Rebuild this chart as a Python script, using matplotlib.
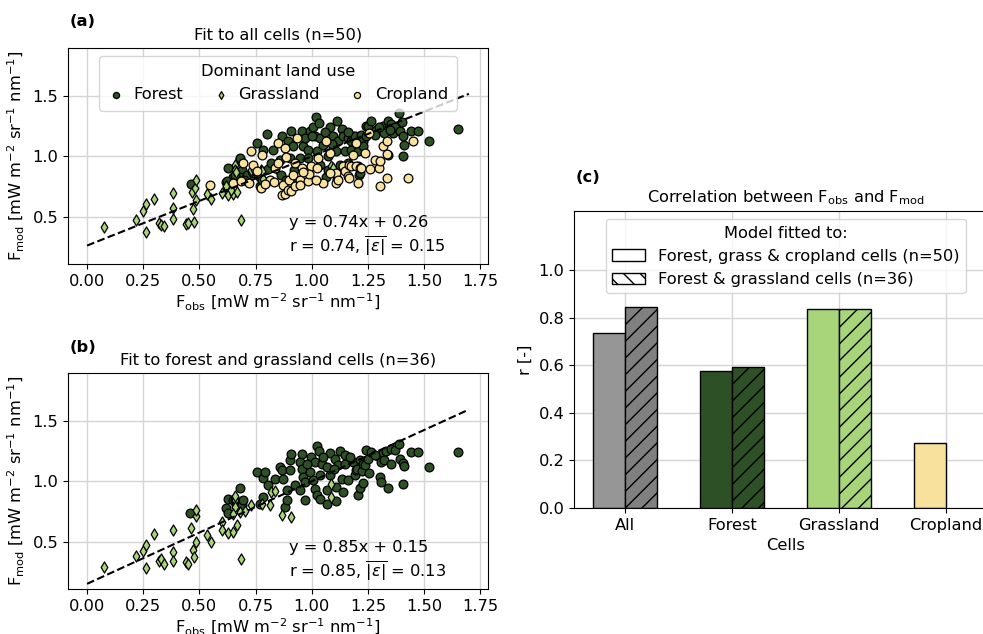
import numpy as np
import matplotlib
matplotlib.use("Agg")
import matplotlib.pyplot as plt
from matplotlib.patches import Patch

plt.rcParams['font.size'] = 11.7

# colours for the land-use classes
c_forest = '#2d5026'
c_grass = '#a8d47a'
c_crop = '#f8e19c'

# ---- panel (a): fit to all cells ----
forest_a = [
    (0.461, 0.768), (0.620, 0.787), (0.628, 0.746), (0.650, 0.829), (0.681, 0.981),
    (0.691, 0.884), (0.680, 0.830), (0.628, 0.903), (0.658, 0.848), (0.621, 0.792),
    (0.710, 0.848), (0.680, 0.990), (0.757, 1.111), (0.769, 0.830), (0.769, 0.751),
    (0.777, 0.806), (0.784, 1.055), (0.799, 1.186), (0.806, 0.898), (0.821, 0.945),
    (0.829, 1.055), (0.858, 0.972), (0.864, 0.848), (0.866, 1.166), (0.887, 0.800),
    (0.895, 1.125), (0.903, 0.986), (0.910, 1.213), (0.917, 0.815), (0.918, 1.083),
    (0.923, 0.889), (0.947, 0.986), (0.955, 1.213), (0.962, 1.083), (0.984, 1.055),
    (0.984, 0.986), (0.992, 1.208), (1.004, 1.241), (1.014, 1.166), (1.020, 1.324),
    (1.022, 1.042), (1.032, 1.277), (1.036, 1.152), (1.036, 0.931), (1.051, 1.097),
    (1.065, 0.829), (1.073, 1.000), (1.073, 0.889), (1.081, 1.241), (1.096, 1.166),
    (1.110, 1.042), (1.113, 1.291), (1.113, 0.810), (1.118, 1.125), (1.125, 0.931),
    (1.133, 1.230), (1.140, 1.166), (1.148, 1.042), (1.162, 1.152), (1.162, 0.945),
    (1.176, 1.055), (1.177, 1.125), (1.183, 1.166), (1.192, 1.166), (1.198, 1.111),
    (1.206, 1.042), (1.207, 0.917), (1.209, 0.843), (1.214, 1.125), (1.214, 0.861),
    (1.221, 1.180), (1.228, 1.125), (1.229, 1.083), (1.243, 1.255), (1.244, 1.166),
    (1.251, 1.249), (1.265, 1.291), (1.287, 1.222), (1.317, 1.255), (1.324, 1.194),
    (1.339, 1.291), (1.339, 1.014), (1.354, 1.271), (1.361, 1.194), (1.369, 1.244),
    (1.388, 1.360), (1.391, 1.208), (1.403, 1.283), (1.406, 1.172), (1.406, 1.000),
    (1.413, 1.097), (1.443, 1.208), (1.473, 1.208), (1.524, 1.125), (1.651, 1.227),
    (0.970, 1.150), (1.060, 1.200), (1.090, 1.100), (1.160, 1.200), (1.280, 1.180),
    (1.300, 1.240), (1.350, 1.220), (0.700, 0.800), (0.740, 0.860), (1.000, 1.170),
]
grass_a = [
    (0.076, 0.414), (0.217, 0.475), (0.249, 0.544), (0.261, 0.602), (0.261, 0.373),
    (0.300, 0.646), (0.318, 0.448), (0.328, 0.434), (0.341, 0.423), (0.384, 0.696),
    (0.384, 0.569), (0.384, 0.483), (0.439, 0.436), (0.451, 0.450), (0.467, 0.707),
    (0.472, 0.566), (0.475, 0.456), (0.482, 0.740), (0.485, 0.807), (0.484, 0.641),
    (0.533, 0.688), (0.553, 0.646), (0.601, 0.696), (0.628, 0.677), (0.648, 0.691),
    (0.658, 0.931), (0.658, 0.889), (0.662, 0.870), (0.668, 0.704), (0.687, 0.475),
    (0.731, 0.870), (0.732, 0.889), (0.742, 0.890), (0.776, 0.890), (0.777, 0.875),
    (0.783, 0.815), (0.843, 0.903), (1.088, 0.917), (1.095, 0.906), (0.620, 0.750),
    (0.640, 0.720),
]
crop_a = [
    (0.549, 0.760), (0.651, 0.778), (0.684, 0.792), (0.695, 0.945), (0.732, 1.047),
    (0.740, 0.931), (0.755, 0.875), (0.776, 0.738), (0.777, 1.014), (0.813, 0.807),
    (0.836, 0.903), (0.850, 0.945), (0.850, 1.113), (0.869, 0.677), (0.871, 0.765),
    (0.879, 0.687), (0.880, 1.069), (0.887, 0.992), (0.895, 0.718), (0.900, 0.806),
    (0.909, 0.715), (0.918, 0.848), (0.925, 0.945), (0.925, 0.751), (0.933, 1.152),
    (0.947, 0.806), (0.947, 0.765), (0.955, 0.903), (0.984, 0.792), (0.999, 0.917),
    (1.022, 0.903), (1.030, 0.986), (1.051, 0.778), (1.062, 1.124), (1.081, 1.028),
    (1.110, 0.861), (1.110, 0.778), (1.118, 0.806), (1.140, 0.917), (1.148, 0.875),
    (1.162, 0.834), (1.168, 0.931), (1.168, 0.820), (1.177, 0.917), (1.184, 1.014),
    (1.199, 1.111), (1.199, 0.917), (1.206, 0.778), (1.214, 0.903), (1.221, 0.903),
    (1.236, 1.028), (1.254, 1.194), (1.258, 0.895), (1.283, 0.972), (1.298, 0.903),
    (1.306, 0.958), (1.306, 0.751), (1.317, 1.083), (1.336, 1.125), (1.336, 1.022),
    (1.336, 0.820), (1.428, 0.820), (1.450, 1.125), (0.720, 0.780), (0.790, 0.770),
    (0.830, 0.790), (0.990, 0.850), (1.020, 0.800), (1.080, 0.860), (0.960, 0.870),
]
fit_a = (0.74, 0.26, 0.74, 0.15)  # slope, intercept, r, mean abs error

# ---- panel (b): fit to forest and grassland cells ----
forest_b = [
    (0.460, 0.738), (0.620, 0.779), (0.628, 0.740), (0.628, 0.856), (0.650, 0.848),
    (0.658, 0.842), (0.665, 0.800), (0.680, 0.945), (0.691, 0.800), (0.695, 0.842),
    (0.757, 1.078), (0.769, 0.814), (0.781, 1.028), (0.784, 0.870), (0.792, 1.078),
    (0.806, 0.972), (0.836, 1.022), (0.858, 1.119), (0.866, 1.091), (0.873, 1.017),
    (0.880, 0.787), (0.888, 0.931), (0.888, 0.842), (0.903, 1.175), (0.903, 1.091),
    (0.910, 1.230), (0.925, 0.967), (0.947, 1.161), (0.947, 0.925), (0.955, 1.230),
    (0.955, 1.105), (0.962, 1.036), (0.969, 0.994), (0.969, 0.842), (0.992, 1.078),
    (0.999, 1.202), (1.007, 1.008), (1.014, 1.161), (1.014, 0.939), (1.022, 1.294),
    (1.022, 0.889), (1.032, 1.249), (1.036, 1.050), (1.036, 0.850), (1.044, 1.147),
    (1.066, 1.119), (1.066, 0.931), (1.066, 0.814), (1.081, 1.238), (1.081, 1.050),
    (1.103, 1.188), (1.110, 0.953), (1.110, 0.834), (1.118, 1.139), (1.125, 1.249),
    (1.133, 1.022), (1.140, 0.911), (1.148, 1.222), (1.148, 1.147), (1.162, 1.008),
    (1.183, 1.158), (1.192, 1.050), (1.198, 1.097), (1.200, 1.105), (1.207, 0.889),
    (1.213, 1.180), (1.216, 0.945), (1.224, 1.083), (1.228, 1.144), (1.228, 0.986),
    (1.239, 1.133), (1.243, 1.263), (1.251, 1.188), (1.257, 1.069), (1.265, 1.241),
    (1.295, 1.208), (1.302, 1.036), (1.309, 1.158), (1.309, 0.992), (1.317, 1.235),
    (1.324, 1.180), (1.332, 1.249), (1.339, 0.945), (1.354, 1.269), (1.354, 1.144),
    (1.369, 1.258), (1.388, 1.313), (1.391, 1.186), (1.406, 1.152), (1.406, 0.981),
    (1.413, 1.125), (1.443, 1.241), (1.473, 1.241), (1.524, 1.119), (1.651, 1.241),
    (1.170, 1.200), (1.280, 1.220), (1.050, 1.200), (0.980, 1.140), (1.100, 1.100),
]
grass_b = [
    (0.076, 0.290), (0.217, 0.378), (0.249, 0.420), (0.261, 0.475), (0.261, 0.282),
    (0.300, 0.566), (0.318, 0.340), (0.328, 0.356), (0.341, 0.318), (0.384, 0.594),
    (0.384, 0.411), (0.384, 0.340), (0.439, 0.331), (0.451, 0.318), (0.464, 0.613),
    (0.472, 0.434), (0.475, 0.370), (0.484, 0.710), (0.484, 0.765), (0.484, 0.494),
    (0.533, 0.558), (0.553, 0.494), (0.601, 0.660), (0.601, 0.600), (0.628, 0.572),
    (0.648, 0.580), (0.660, 0.848), (0.657, 0.790), (0.669, 0.641), (0.687, 0.359),
    (0.658, 0.878), (0.651, 0.731), (0.680, 0.745), (0.702, 0.750), (0.732, 0.800),
    (0.777, 0.814), (0.814, 0.800), (0.821, 0.911), (0.836, 0.917), (0.866, 0.717),
    (0.910, 0.704), (1.088, 0.981), (1.088, 0.870),
]
fit_b = (0.85, 0.15, 0.85, 0.13)

# ---- panel (c): correlation per cell group ----
cells = ['All', 'Forest', 'Grassland', 'Cropland']
r_all_fit = [0.737, 0.578, 0.838, 0.273]
r_fg_fit = [0.848, 0.595, 0.836]
bar_colors_all = ['#969696', c_forest, c_grass, c_crop]
bar_colors_fg = ['#808080', c_forest, c_grass]

ylab = r'F$_{\mathrm{mod}}$ [mW m$^{-2}$ sr$^{-1}$ nm$^{-1}$]'
xlab = r'F$_{\mathrm{obs}}$ [mW m$^{-2}$ sr$^{-1}$ nm$^{-1}$]'

W, H = 983, 634
fig = plt.figure(figsize=(W / 100, H / 100), dpi=100)


def px_axes(left, top, right, bottom):
    return fig.add_axes([left / W, 1 - bottom / H, (right - left) / W, (bottom - top) / H])


def scatter_panel(ax, groups, fit, title):
    for pts, col, mk, s, lab in groups:
        pts = np.array(pts)
        ax.scatter(pts[:, 0], pts[:, 1], c=col, marker=mk, s=s, edgecolors='black',
                   linewidths=0.9, label=lab, zorder=3)
    slope, icpt, r, err = fit
    xl = np.array([0, 1.7])
    ax.plot(xl, slope * xl + icpt, 'k--', lw=1.5, zorder=4)
    ax.text(0.9, 0.447, f'y = {slope:.2f}x + {icpt:.2f}', va='center')
    ax.text(0.9, 0.26, f'r = {r:.2f}, ' + r'$\overline{|\varepsilon|}$' + f' = {err:.2f}', va='center')
    ax.set_xlim(-0.085, 1.785)
    ax.set_ylim(0.107, 1.898)
    ax.set_xticks(np.arange(0, 1.76, 0.25))
    ax.set_yticks([0.5, 1.0, 1.5])
    ax.grid(color='#d5d5d5', lw=1)
    ax.set_axisbelow(True)
    ax.set_xlabel(xlab, labelpad=2)
    ax.set_ylabel(ylab)
    ax.set_title(title, fontsize=11.7)


ax1 = px_axes(68, 48, 488, 264)
scatter_panel(ax1, [(forest_a, c_forest, 'o', 40, 'Forest'),
                    (grass_a, c_grass, 'd', 32, 'Grassland'),
                    (crop_a, c_crop, 'o', 40, 'Cropland')],
              fit_a, 'Fit to all cells (n=50)')
leg = ax1.legend(loc='upper center', ncol=3, title='Dominant land use', markerscale=0.7,
                 handlelength=1.0, handletextpad=0.6, columnspacing=1.8, borderaxespad=0.5,
                 borderpad=0.5)
leg.set_zorder(10)

ax2 = px_axes(68, 373, 488, 589)
scatter_panel(ax2, [(forest_b, c_forest, 'o', 40, 'Forest'),
                    (grass_b, c_grass, 'd', 32, 'Grassland')],
              fit_b, 'Fit to forest and grassland cells (n=36)')

ax3 = px_axes(574, 211, 997, 508)
x = np.arange(len(cells))
w = 0.3
ax3.bar(x - w / 2, r_all_fit, w, color=bar_colors_all, edgecolor='black', lw=1)
ax3.bar(x[:3] + w / 2, r_fg_fit, w, color=bar_colors_fg, edgecolor='black', lw=1, hatch='//')
ax3.set_xlim(-0.48, 3.48)
ax3.set_ylim(0, 1.25)
ax3.set_yticks(np.arange(0, 1.01, 0.2))
ax3.set_xticks(x)
ax3.set_xticklabels(cells)
ax3.grid(color='#d5d5d5', lw=1)
ax3.set_axisbelow(True)
ax3.set_xlabel('Cells', labelpad=4)
ax3.set_ylabel('r [-]')
ax3.set_title(r'Correlation between F$_{\mathrm{obs}}$ and F$_{\mathrm{mod}}$', fontsize=11.7)
handles = [Patch(facecolor='white', edgecolor='black', label='Forest, grass & cropland cells (n=50)'),
           Patch(facecolor='white', edgecolor='black', hatch='\\\\', label='Forest & grassland cells (n=36)')]
ax3.legend(handles=handles, loc='upper center', title='Model fitted to:', borderaxespad=0.5)

fig.text(70 / W, 1 - 22 / H, '(a)', fontweight='bold', va='center')
fig.text(70 / W, 1 - 348 / H, '(b)', fontweight='bold', va='center')
fig.text(576 / W, 1 - 177 / H, '(c)', fontweight='bold', va='center')

fig.savefig('out.png', dpi=100)
